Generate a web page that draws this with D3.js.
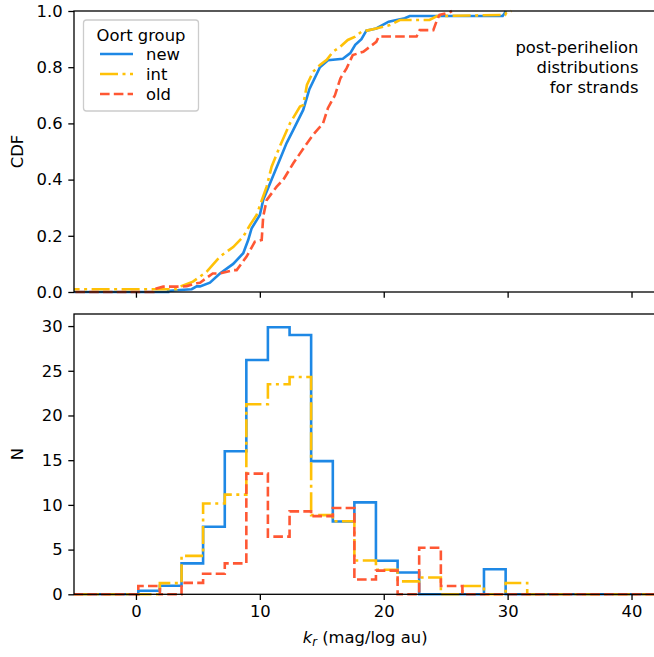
<!DOCTYPE html>
<html><head><meta charset="utf-8">
<script src="https://cdn.jsdelivr.net/npm/d3@7"></script>
<style>
html,body{margin:0;padding:0;background:#fff;}
text{font-family:"DejaVu Sans",sans-serif;fill:#000;}
</style></head>
<body><svg id="c" width="654" height="657"></svg>
<script>
// ---------------- data ----------------
const groups = ["new", "int", "old"];
const colors = ["#1E88E5", "#FFC107", "#FF5733"];
const dashes = [null, "18,4.5,3,4.5", "9.6,4.2"];

// histogram bin edges (k_r)
const binEdges = [-5.04,-3.30,-1.55,0.19,1.93,3.68,5.42,7.17,8.91,10.65,12.40,14.14,15.89,17.63,19.37,21.12,22.86,24.61,26.35,28.09,29.84,31.58,33.33,35.07,36.81,38.56,40.30,42.05];
const histNew = [0,0,0,0.4,0.96,3.46,7.55,16.0,26.2,29.86,29.0,14.9,8.14,10.28,3.75,2.44,0,0,0,2.8,0,0,0,0,0,0,0];
const histInt = [0,0,0,0,1.25,4.3,10.15,11.15,21.26,23.5,24.3,8.86,8.17,3.78,2.75,1.45,1.88,0,0.93,0,1.27,0,0,0,0,0,0];
const histOld = [0,0,0,0.93,0,1.28,2.3,3.46,13.5,6.45,9.27,8.74,9.65,1.66,2.65,0,5.2,0.93,0,0,0,0,0,0,0,0,0];

// empirical CDFs (k_r, CDF)
const cdfNewX = [-6,2.6,2.6,3.55,4.5,4.9,5.17,5.97,6.78,7.85,8.66,9.06,9.34,10.0,10.27,10.95,11.6,12.16,12.7,13.5,14.0,14.85,15.5,16.7,17.3,17.7,18.2,18.6,19.4,20.4,21.7,22.1,29.6,29.8,29.85];
const cdfNewY = [0,0,0.004,0.007,0.01,0.02,0.02,0.033,0.066,0.10,0.138,0.185,0.227,0.274,0.327,0.40,0.47,0.53,0.577,0.648,0.722,0.80,0.825,0.83,0.85,0.88,0.90,0.93,0.938,0.962,0.974,0.982,0.982,0.995,1.0];
const cdfIntX = [-6,3.3,3.55,4.6,5.7,6.78,7.85,8.66,9.2,9.74,10.55,10.95,11.6,12.43,13.24,13.5,13.8,14.3,14.85,15.4,15.9,16.5,17.1,17.7,18.2,19.4,20.5,21.3,23.7,24.3,29.8,29.9,30.3];
const cdfIntY = [0.0096,0.0096,0.019,0.037,0.072,0.126,0.16,0.197,0.238,0.274,0.375,0.446,0.517,0.60,0.66,0.665,0.737,0.784,0.808,0.826,0.855,0.873,0.897,0.909,0.926,0.938,0.95,0.968,0.968,0.982,0.986,0.995,1.0];
const cdfOldX = [-6,1.4,1.4,2.2,3.55,4.1,4.9,5.17,6.2,6.78,7.85,8.13,8.93,9.6,10.15,10.27,10.55,11.36,11.9,12.7,13.5,14.3,15.1,15.5,16.06,16.5,17.0,17.5,18.35,19.4,19.6,22.65,22.9,24.0,24.3,24.5,25.3,25.5];
const cdfOldY = [0,0,0.0096,0.019,0.019,0.021,0.031,0.033,0.066,0.066,0.078,0.078,0.126,0.179,0.185,0.268,0.327,0.375,0.40,0.458,0.51,0.56,0.60,0.655,0.70,0.76,0.796,0.843,0.855,0.89,0.909,0.909,0.932,0.932,0.968,0.986,0.995,1.0];

const xTicks = [0,10,20,30,40];
const cdfTicks = [0,0.2,0.4,0.6,0.8,1.0];
const nTicks = [0,5,10,15,20,25,30];
const annotation = ["post-perihelion","distributions","for strands"];

// ---------------- layout ----------------
const svg = d3.select("#c");
const FS = 16.4;
const L = 74, R = 656.3;
const top1 = 11, bot1 = 292, top2 = 314, bot2 = 594.3;
const x = d3.scaleLinear().domain([-5, 42]).range([L, R]);
const y1 = d3.scaleLinear().domain([0, 1]).range([bot1, top1]);
const y2 = d3.scaleLinear().domain([0, 31.35]).range([bot2, top2]);
const LW = 2.6;

function clip(id, y0, y1_) {
  svg.append("clipPath").attr("id", id).append("rect")
    .attr("x", L).attr("y", y0).attr("width", R - L).attr("height", y1_ - y0);
}
clip("cp1", top1 - 2, bot1 + 2);
clip("cp2", top2, bot2 + 2);

// ---------- top panel: CDF ----------
const cdfData = [[cdfNewX, cdfNewY], [cdfIntX, cdfIntY], [cdfOldX, cdfOldY]];
const line1 = d3.line().x(d => x(d[0])).y(d => y1(d[1]));
const g1 = svg.append("g").attr("clip-path", "url(#cp1)");
cdfData.forEach((s, i) => {
  const pts = s[0].map((v, j) => [v, s[1][j]]);
  g1.append("path").attr("d", line1(pts)).attr("fill", "none")
    .attr("stroke", colors[i]).attr("stroke-width", LW)
    .attr("stroke-dasharray", dashes[i]).attr("stroke-linejoin", "miter");
});

// ---------- bottom panel: step histograms ----------
const g2 = svg.append("g").attr("clip-path", "url(#cp2)");
[histNew, histInt, histOld].forEach((h, i) => {
  const pts = [[binEdges[0], 0]];
  h.forEach((v, j) => { pts.push([binEdges[j], v]); pts.push([binEdges[j + 1], v]); });
  pts.push([binEdges[binEdges.length - 1], 0]);
  const ln = d3.line().x(d => x(d[0])).y(d => y2(d[1]));
  g2.append("path").attr("d", ln(pts)).attr("fill", "none")
    .attr("stroke", colors[i]).attr("stroke-width", LW)
    .attr("stroke-dasharray", dashes[i]).attr("stroke-linejoin", "miter");
});

// ---------- axes ----------
function frame(t, b) {
  svg.append("rect").attr("x", L).attr("y", t).attr("width", R - L).attr("height", b - t)
    .attr("fill", "none").attr("stroke", "#000").attr("stroke-width", 1.3);
}
frame(top1, bot1);
frame(top2, bot2);

function styleAxis(g) {
  g.select(".domain").remove();
  g.selectAll(".tick line").attr("stroke", "#000").attr("stroke-width", 1.3);
  g.selectAll(".tick text").attr("font-size", FS).attr("font-family", "DejaVu Sans");
}
const xa1 = svg.append("g").attr("transform", `translate(0,${bot1})`)
  .call(d3.axisBottom(x).tickValues(xTicks).tickSize(5.7).tickFormat(""));
styleAxis(xa1);
const xa2 = svg.append("g").attr("transform", `translate(0,${bot2})`)
  .call(d3.axisBottom(x).tickValues(xTicks).tickSize(5.7).tickPadding(5.7).tickFormat(d3.format("d")));
styleAxis(xa2);
const ya1 = svg.append("g").attr("transform", `translate(${L},0)`)
  .call(d3.axisLeft(y1).tickValues(cdfTicks).tickSize(5.7).tickPadding(5.7).tickFormat(d3.format(".1f")));
styleAxis(ya1);
const ya2 = svg.append("g").attr("transform", `translate(${L},0)`)
  .call(d3.axisLeft(y2).tickValues(nTicks).tickSize(5.7).tickPadding(5.7).tickFormat(d3.format("d")));
styleAxis(ya2);

// axis labels
svg.append("text").attr("transform", `translate(17,${(top1 + bot1) / 2}) rotate(-90)`)
  .attr("text-anchor", "middle").attr("dominant-baseline", "central").attr("font-size", FS).text("CDF");
svg.append("text").attr("transform", `translate(17,${(top2 + bot2) / 2}) rotate(-90)`)
  .attr("text-anchor", "middle").attr("dominant-baseline", "central").attr("font-size", FS).text("N");
const xl = svg.append("text").attr("x", (L + R) / 2).attr("y", 643).attr("text-anchor", "middle").attr("font-size", FS);
xl.append("tspan").attr("font-style", "italic").text("k");
xl.append("tspan").attr("font-style", "italic").attr("font-size", FS * 0.7).attr("dy", 3).text("r");
xl.append("tspan").attr("dy", -3).text(" (mag/log au)");

// annotation
const an = svg.append("text").attr("text-anchor", "end").attr("font-size", FS);
annotation.forEach((t, i) => an.append("tspan").attr("x", 638.5).attr("y", 52.5 + i * 20).text(t));

// legend
const lg = svg.append("g");
lg.append("rect").attr("x", 83.5).attr("y", 20).attr("width", 115).attr("height", 91)
  .attr("rx", 3).attr("fill", "#fff").attr("fill-opacity", 0.8).attr("stroke", "#ccc").attr("stroke-width", 1.3);
lg.append("text").attr("x", 141).attr("y", 41).attr("text-anchor", "middle").attr("font-size", FS).text("Oort group");
groups.forEach((gname, i) => {
  const yy = 54 + i * 20;
  lg.append("line").attr("x1", 100).attr("x2", 133).attr("y1", yy).attr("y2", yy)
    .attr("stroke", colors[i]).attr("stroke-width", LW).attr("stroke-dasharray", dashes[i]);
  lg.append("text").attr("x", 146).attr("y", yy).attr("dominant-baseline", "central").attr("font-size", FS).text(gname);
});
</script></body></html>
